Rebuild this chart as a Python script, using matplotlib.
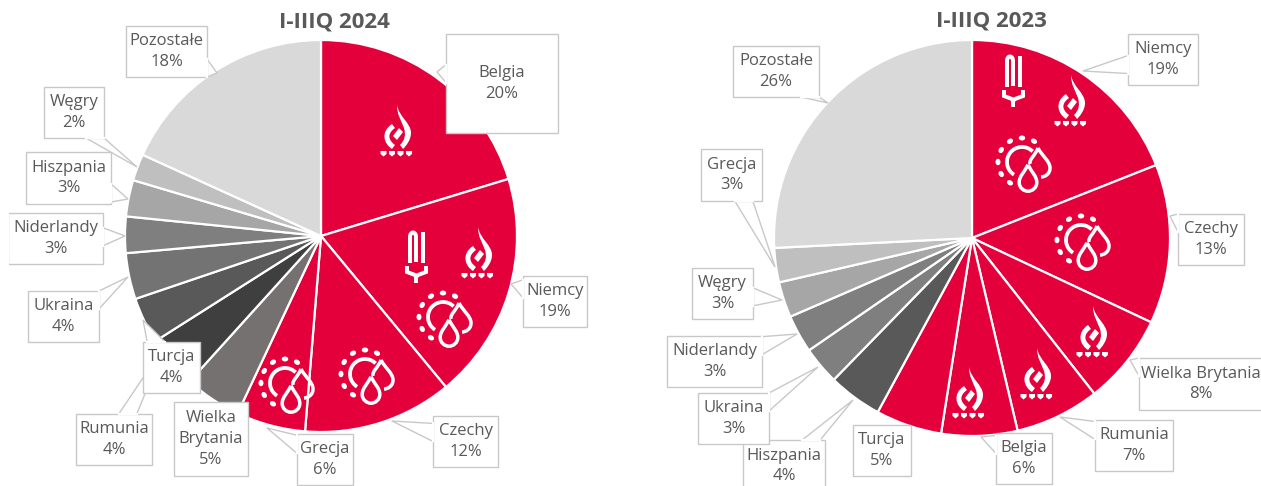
import numpy as np
import matplotlib
matplotlib.use('Agg')
import matplotlib.pyplot as plt
from matplotlib.patches import PathPatch, Polygon, Rectangle, Ellipse, Arc
from matplotlib.path import Path

plt.rcParams['font.family'] = ['Open Sans', 'DejaVu Sans']

RED = '#E4003A'
TXT = '#595959'
EDGE = '#C8C8C8'
H = 486

# I-IIIQ 2024
names_24 = ['Belgia', 'Niemcy', 'Czechy', 'Grecja', 'Wielka\nBrytania', 'Turcja', 'Rumunia',
            'Ukraina', 'Niderlandy', 'Hiszpania', 'Węgry', 'Pozostałe']
shares_24 = [20.3, 18.7, 12.3, 5.7, 4.7, 4.3, 3.8, 3.8, 3.0, 3.0, 2.2, 18.2]
labels_24 = [20, 19, 12, 6, 5, 4, 4, 4, 3, 3, 2, 18]
colors_24 = [RED, RED, RED, RED, '#767171', '#3F3F3F', '#595959', '#737373', '#7F7F7F', '#A6A6A6',
             '#BFBFBF', '#D9D9D9']

# I-IIIQ 2023
names_23 = ['Niemcy', 'Czechy', 'Wielka Brytania', 'Rumunia', 'Belgia', 'Turcja', 'Hiszpania',
            'Ukraina', 'Niderlandy', 'Węgry', 'Grecja', 'Pozostałe']
shares_23 = [19.0, 13.0, 7.4, 6.9, 6.2, 5.4, 4.4, 3.1, 3.1, 2.9, 2.8, 25.8]
labels_23 = [19, 13, 8, 7, 6, 5, 4, 3, 3, 3, 3, 26]
colors_23 = [RED, RED, RED, RED, RED, RED, '#595959', '#7F7F7F', '#7F7F7F', '#A6A6A6', '#BFBFBF', '#D9D9D9']

# label boxes in pixels: left, top, right, bottom, then leader tip x, y
boxes_24 = [(446, 34, 558, 133, 437, 72), (523, 276, 587, 327, 511, 284), (433, 416, 498, 467, 392, 421),
            (297, 434, 353, 485, 267, 428), (174, 402, 248, 476, 211, 410), (143, 342, 200, 393, 143, 320),
            (76, 414, 152, 465, 165, 345), (28, 291, 99, 342, 128, 277), (8, 213, 103, 264, 125, 236),
            (26, 152, 111, 204, 128, 199), (44, 87, 104, 138, 137, 167), (126, 26, 207, 77, 217, 73)]
boxes_23 = [(1128, 34, 1198, 85, 1083, 71), (1178, 214, 1244, 265, 1170, 216), (1139, 358, 1262, 410, 1130, 360),
            (1095, 420, 1173, 471, 1060, 417), (996, 433, 1052, 484, 981, 437), (853, 425, 911, 476, 882, 430),
            (743, 440, 825, 492, 853, 400), (698, 393, 769, 444, 818, 367), (667, 336, 762, 387, 797, 334),
            (692, 268, 753, 319, 782, 300), (701, 149, 762, 201, 775, 267), (733, 46, 819, 97, 828, 103)]

# icons: kind, x, y
icons_24 = [('flame', 397, 135), ('bulb', 416, 258), ('flame', 478, 257), ('sun', 444, 320),
            ('sun', 366, 377), ('sun', 286, 386)]
icons_23 = [('bulb', 1013, 82), ('flame', 1071, 105), ('sun', 1023, 165), ('sun', 1082, 243),
            ('flame', 1093, 336), ('flame', 1037, 378), ('flame', 969, 397)]

fig = plt.figure(figsize=(12.61, 4.86), dpi=100)
ax = fig.add_axes([0, 0, 1, 1])


def curve(points):
    # M, then triples of bezier points, in px relative to the icon
    codes = [Path.MOVETO] + [Path.CURVE4] * (len(points) - 1)
    return Path(points, codes)


def add_fill(x, y, path, z=5):
    v = path.vertices * [1, -1] + [x, H - y]
    ax.add_patch(PathPatch(Path(v, path.codes), fc='white', ec='none', zorder=z))


def add_line(x, y, path, lw=2.6):
    v = path.vertices * [1, -1] + [x, H - y]
    ax.add_patch(PathPatch(Path(v, path.codes), fc='none', ec='white', lw=lw * 0.72, zorder=5,
                           capstyle='butt'))


def flame(x, y):
    add_fill(x, y, curve([(0, -30), (2, -18), (14, -12), (14, -2), (14, 5), (9, 11), (6, 14),
                          (3, 10), (3, 10), (3, 10), (8, 5), (9, 0), (7, -7), (4, -15), (0, -20), (0, -30)]))
    add_fill(x, y, curve([(-5, -11), (-2, -7), (-2, -7), (-2, -7), (-9, -2), (-10, 4), (-2, 10),
                          (-5, 14), (-5, 14), (-5, 14), (-13, 9), (-17, -3), (-5, -11)]))
    ax.add_patch(Polygon([(x + 2, H - y + 7), (x + 6, H - y + 3), (x, H - y - 5), (x - 4, H - y - 1)],
                         fc='white', ec='none', zorder=5))
    for dx in (-13.5, -5, 3.5, 12):
        ax.add_patch(Polygon([(x + dx - 3, H - y - 16), (x + dx + 3, H - y - 16), (x + dx + 3, H - y - 19),
                              (x + dx, H - y - 21.5), (x + dx - 3, H - y - 19)], fc='white', ec='none', zorder=5))


def bulb(x, y):
    add_line(x, y, Path([(-6, 5), (-6, -21), (-6, -27), (0, -27), (0, -21), (0, 4)],
                        [Path.MOVETO, Path.LINETO, Path.CURVE4, Path.CURVE4, Path.CURVE4, Path.LINETO]), lw=4)
    add_line(x, y, Path([(6.5, -26), (6.5, 5)]), lw=4)
    add_line(x, y, Path([(-9, 8), (-9, 14), (-1, 17), (0, 19), (2, 17), (10, 14), (10, 8)]), lw=4)
    add_line(x, y, Path([(0, 18), (0, 25)]), lw=4)


def sun(x, y):
    cy = H - y + 3
    ax.add_patch(Arc((x - 1, cy), 30, 30, theta1=45, theta2=238, ec='white', lw=3.8 * 0.72, zorder=5))
    for a in (60, 90, 120, 150, 180, 210, 240):
        ax.add_patch(Ellipse((x - 1 + 24 * np.cos(np.radians(a)), cy + 24 * np.sin(np.radians(a))), 6.5, 5,
                             angle=a + 90, fc='white', ec='none', zorder=5))
    add_line(x, y, curve([(15, -17), (12, -9), (6, -6), (7, -1)]), lw=3.5)
    add_line(x, y, curve([(15, -17), (19, -9), (27, -4), (27, 3), (27, 9), (22, 12), (18, 12)]), lw=3.5)
    # big drop in front
    pts = np.array([(0, -15), (-4, -7), (-10, -2), (-10, 5), (-10, 11), (-5, 15), (0, 15),
                    (5, 15), (10, 11), (10, 5), (10, -2), (4, -7), (0, -15)]) * 0.88
    add_line(x + 5, y + 13, curve(pts), lw=3.5)


def leader(b):
    # callout spike from the box edge to the tip, open where it meets the box
    l, t, rt, bt, tx, ty = b
    if l <= tx <= rt and t <= ty <= bt:
        return
    bx, by = (l + rt) / 2, (t + bt) / 2
    dx, dy = tx - bx, ty - by
    sx = (rt - bx) / abs(dx) if dx else 1e9
    sy = (bt - by) / abs(dy) if dy else 1e9
    if sy < sx:
        ex = np.clip(bx + dx * sy, l + 9, rt - 9)
        ey = t if dy < 0 else bt
        p1, p2 = (ex - 9, ey), (ex + 9, ey)
    else:
        ex = l if dx < 0 else rt
        ey = np.clip(by + dy * sx, t + 9, bt - 9)
        p1, p2 = (ex, ey - 9), (ex, ey + 9)
    ax.add_patch(Polygon([(p1[0], H - p1[1]), (tx, H - ty), (p2[0], H - p2[1])], closed=False,
                         fc='white', ec=EDGE, lw=1, zorder=3.9))
    ax.plot([p1[0], p2[0]], [H - p1[1], H - p2[1]], color='white', lw=1.6, zorder=4.5)


def draw_pie(shares, colors, cx, cy, r, names, labels, boxes, icons):
    ax.pie(shares, colors=colors, startangle=90, counterclock=False, center=(cx, H - cy), radius=r,
           wedgeprops={'edgecolor': 'white', 'linewidth': 1.6}, frame=False)
    for name, lab, b in zip(names, labels, boxes):
        l, t, rt, bt = b[:4]
        ax.add_patch(Rectangle((l, H - bt), rt - l, bt - t, fc='white', ec=EDGE, lw=1, zorder=4))
        leader(b)
        ax.text((l + rt) / 2, H - (t + bt) / 2, f'{name}\n{lab}%', ha='center', va='center', fontsize=12,
                color=TXT, linespacing=1.38, zorder=6)
    for kind, x, y in icons:
        {'flame': flame, 'bulb': bulb, 'sun': sun}[kind](x, y)


draw_pie(shares_24, colors_24, 321, 236, 196, names_24, labels_24, boxes_24, icons_24)
draw_pie(shares_23, colors_23, 972, 238, 198, names_23, labels_23, boxes_23, icons_23)

# Niderlandy box runs off the crop on the left
ax.add_patch(Rectangle((0, 0), 8.6, H, fc='white', ec='none', zorder=4.8))

ax.text(334, H - 22, 'I-IIIQ 2024', ha='center', va='center', fontsize=16, fontweight='bold', color=TXT)
ax.text(991, H - 21, 'I-IIIQ 2023', ha='center', va='center', fontsize=16, fontweight='bold', color=TXT)

ax.set_xlim(0, 1261)
ax.set_ylim(0, H)
ax.set_aspect('auto')
ax.axis('off')
fig.savefig('out.png', dpi=100)
